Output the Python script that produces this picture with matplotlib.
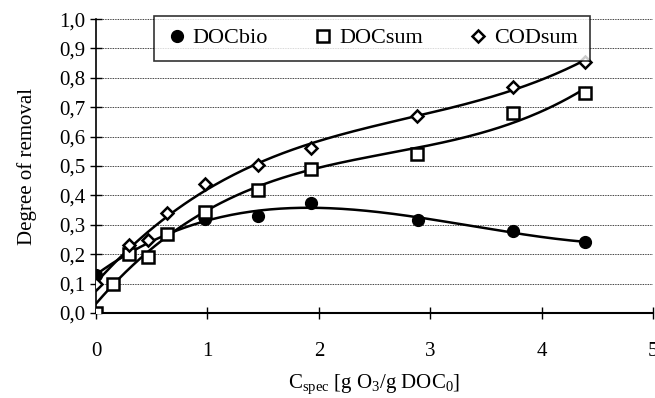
import numpy as np
import matplotlib
matplotlib.use('Agg')
import matplotlib.pyplot as plt
from matplotlib.ticker import FuncFormatter

plt.rcParams['font.family'] = 'Liberation Serif'
plt.rcParams['mathtext.fontset'] = 'custom'
plt.rcParams['mathtext.rm'] = 'Liberation Serif'
plt.rcParams['mathtext.it'] = 'Liberation Serif:italic'

# data
x_bio = [0.0, 0.98, 1.45, 1.93, 2.89, 3.74, 4.39]
doc_bio = [0.13, 0.32, 0.33, 0.375, 0.315, 0.28, 0.24]

x_sum = [0.0, 0.15, 0.30, 0.47, 0.64, 0.98, 1.45, 1.93, 2.88, 3.74, 4.39]
doc_sum = [0.0, 0.10, 0.20, 0.19, 0.27, 0.345, 0.42, 0.49, 0.54, 0.68, 0.75]

x_cod = [0.0, 0.30, 0.47, 0.64, 0.98, 1.45, 1.93, 2.88, 3.74, 4.39]
cod_sum = [0.10, 0.23, 0.25, 0.34, 0.44, 0.505, 0.56, 0.67, 0.77, 0.855]

fig = plt.figure(figsize=(6.55, 3.98), dpi=100)
ax = fig.add_axes([0.1466, 0.2136, 0.8504, 0.7384])

# trendlines (3rd order polynomial like excel)
for xs, ys in [(x_bio, doc_bio), (x_sum, doc_sum), (x_cod, cod_sum)]:
    c = np.polyfit(xs, ys, 3)
    xx = np.linspace(0, max(xs), 200)
    ax.plot(xx, np.polyval(c, xx), color='black', lw=1.8, zorder=2)

ax.plot(x_bio, doc_bio, 'o', color='black', ms=8.5, label='DOCbio', zorder=3)
ax.plot(x_sum, doc_sum, 's', mfc='white', mec='black', mew=1.8, ms=8, label='DOCsum', zorder=3)
ax.plot(x_cod, cod_sum, 'D', mfc='white', mec='black', mew=1.8, ms=6, label='CODsum', zorder=4)

ax.set_xlim(0, 5)
ax.set_ylim(0, 1.0)
ax.set_xticks(range(6))
ax.set_yticks(np.arange(0, 1.01, 0.1))
ax.yaxis.set_major_formatter(FuncFormatter(lambda v, p: ('%.1f' % v).replace('.', ',')))
ax.grid(axis='y', linestyle=(0, (1, 1)), color='black', lw=0.6)
ax.spines['top'].set_visible(False)
ax.spines['right'].set_visible(False)
ax.spines['left'].set_linewidth(1.2)
ax.spines['bottom'].set_linewidth(1.5)
ax.tick_params(direction='inout', length=8, width=1, labelsize=15)
ax.tick_params(axis='x', pad=17)
ax.set_ylabel('Degree of removal', fontsize=15, labelpad=16)
ax.set_xlabel(r'C$_{\rm spec}$ [g O$_3$/g DOC$_0$]', fontsize=15, labelpad=8)
ax.set_axisbelow(True)

leg = ax.legend(loc='upper center', bbox_to_anchor=(0.495, 1.05), ncol=3, fontsize=16,
                frameon=True, fancybox=False, edgecolor='black', handletextpad=0.2,
                columnspacing=2.0, handlelength=1.0, borderpad=0.55)
leg.get_frame().set_linewidth(1.2)

fig.savefig('out.png', dpi=100)
